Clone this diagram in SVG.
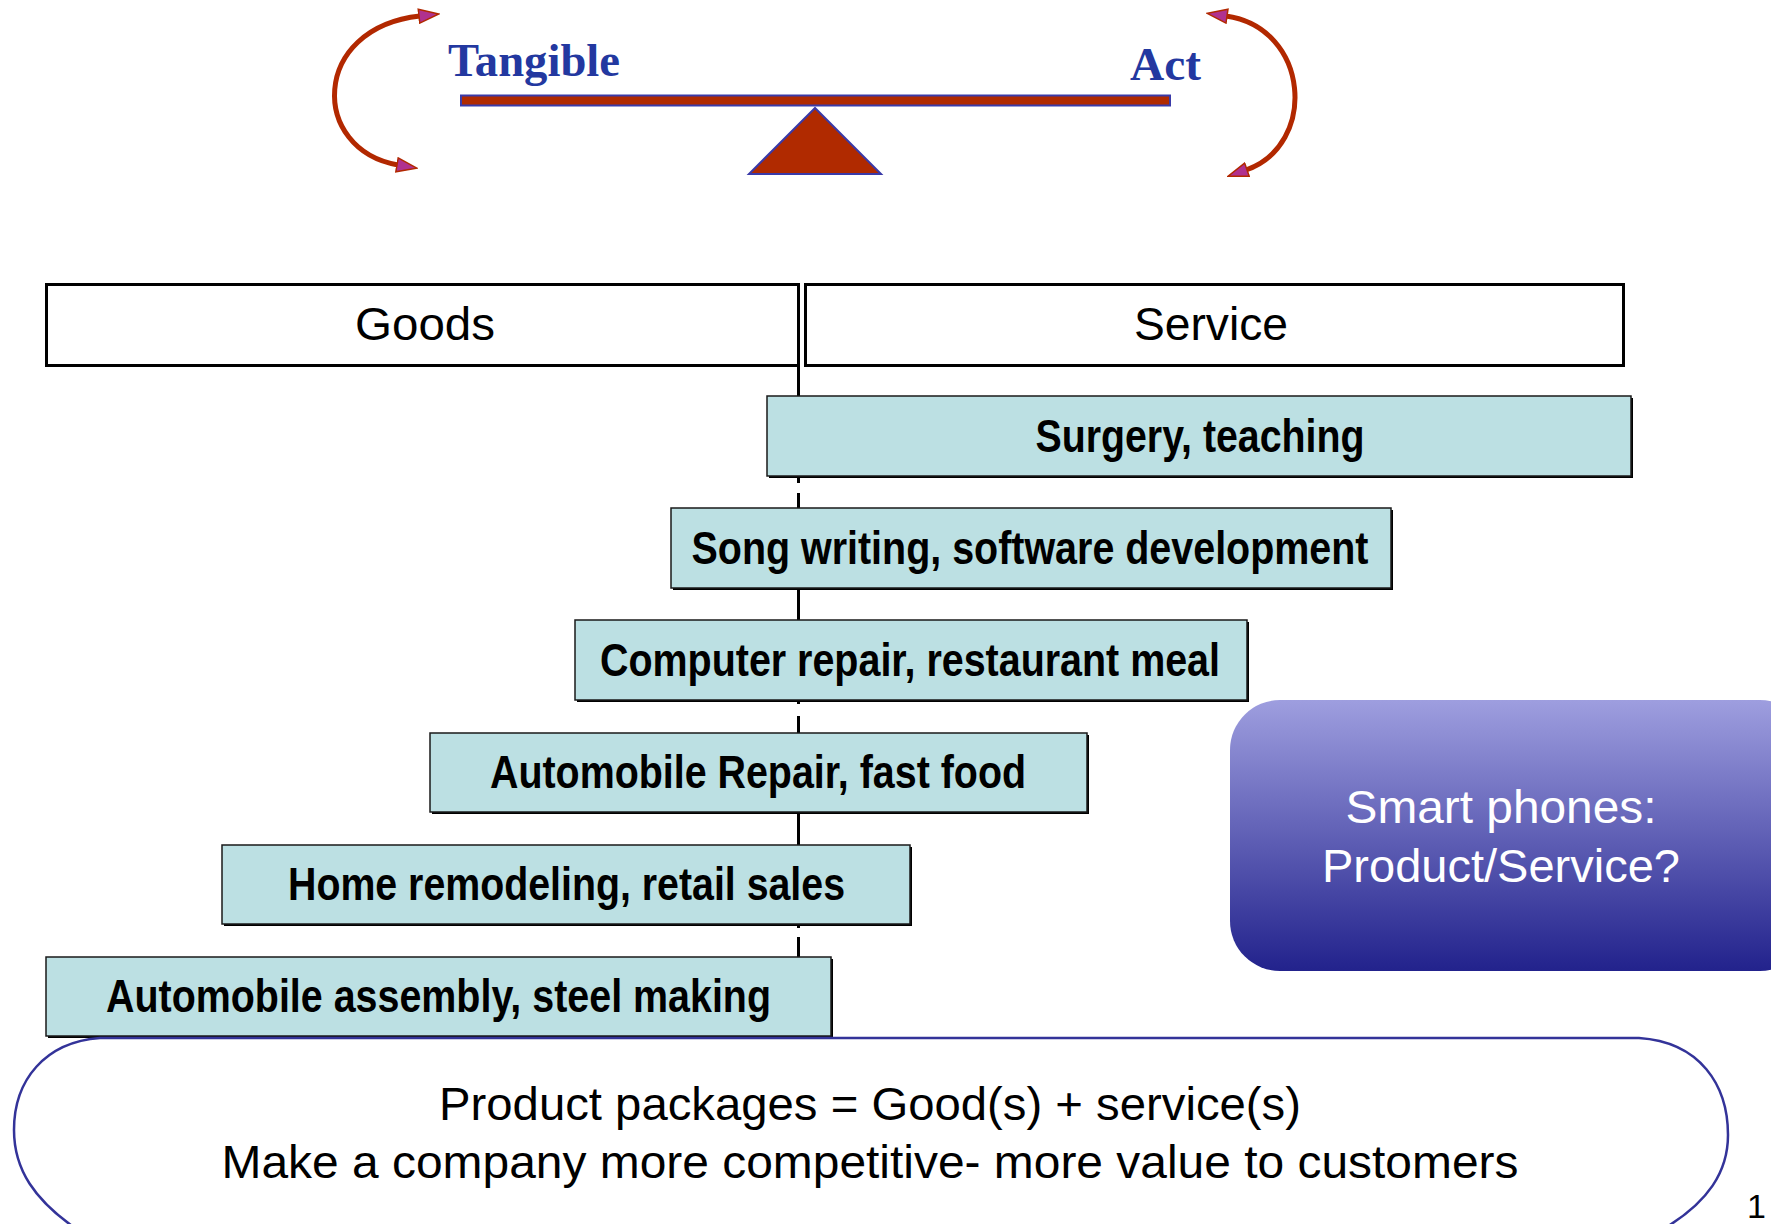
<svg xmlns="http://www.w3.org/2000/svg" width="1771" height="1224" viewBox="0 0 1771 1224">
  <style>
    .narrow { font-family: 'Liberation Sans Narrow', 'Liberation Sans', Arial, sans-serif; }
    .bold { font-weight: bold; }
    .box { fill: #BCE0E3; stroke: #1a1a1a; stroke-width: 1.5; }
    .shadow { fill: #000; }
    .boxtext { font-size: 46px; fill: #000; text-anchor: middle; }
    .hdr { fill: #fff; stroke: #000; stroke-width: 3; }
    .hdrtext { font-size: 46px; fill: #000; text-anchor: middle; }
    .serif { font-family: 'Liberation Serif', 'Times New Roman', serif; font-weight: bold; fill: #2338A0; font-size: 46px; }
    .arc { fill: none; stroke: #B22800; stroke-width: 5; stroke-linecap: round; }
  </style>
  <defs>
    <marker id="ah" markerUnits="userSpaceOnUse" markerWidth="22" markerHeight="16" viewBox="-1 -1 22 16" refX="1" refY="7" orient="auto-start-reverse">
      <path d="M0,0 L20,7 L0,14 z" fill="#B0318F" stroke="#B22800" stroke-width="1.5"/>
    </marker>
    <linearGradient id="purple" x1="0" y1="0" x2="0" y2="1">
      <stop offset="0" stop-color="#9E9EDF"/>
      <stop offset="1" stop-color="#22228C"/>
    </linearGradient>
  </defs>

  <!-- Seesaw -->
  <g id="seesaw">
    <rect x="461" y="95.5" width="709" height="10" fill="#B02A00" stroke="#3A3AA8" stroke-width="2"/>
    <polygon points="815,108 749,174 881,174" fill="#B02A00" stroke="#3A3AA8" stroke-width="2"/>
  </g>
  <g id="label-tangible">
    <text class="serif" x="448" y="76" textLength="172" lengthAdjust="spacingAndGlyphs">Tangible</text>
  </g>
  <g id="label-act">
    <text class="serif" x="1130" y="80" textLength="71" lengthAdjust="spacingAndGlyphs">Act</text>
  </g>

  <!-- Connectors -->
  <g id="connectors">
    <path class="arc" d="M 420,16 C 310,28 310,150 398,165" marker-start="url(#ah)" marker-end="url(#ah)"/>
    <path class="arc" d="M 1226,16 C 1310,28 1318,145 1246,170" marker-start="url(#ah)" marker-end="url(#ah)"/>
    <path d="M798.5 366 V396 M798.5 476 V483 M798.5 493 V508 M798.5 588 V620 M798.5 700 V704 M798.5 716 V733 M798.5 812 V845 M798.5 924 V928 M798.5 937 V957" stroke="#000" stroke-width="3" fill="none"/>
  </g>

  <!-- Header -->
  <g id="goods">
    <rect class="hdr" x="46.5" y="284.5" width="752" height="81"/>
    <text class="narrow hdrtext" x="425" y="340" textLength="140" lengthAdjust="spacingAndGlyphs">Goods</text>
  </g>
  <g id="service">
    <rect class="hdr" x="805.5" y="284.5" width="818" height="81"/>
    <text class="narrow hdrtext" x="1211" y="340" textLength="154" lengthAdjust="spacingAndGlyphs">Service</text>
  </g>

  <!-- Spectrum boxes -->
  <g id="surgery">
    <rect class="shadow" x="769" y="398" width="864" height="80"/>
    <rect class="box" x="767" y="396" width="864" height="80"/>
    <text class="narrow bold boxtext" x="1200" y="452" textLength="329" lengthAdjust="spacingAndGlyphs">Surgery, teaching</text>
  </g>
  <g id="song">
    <rect class="shadow" x="673" y="510" width="720" height="80"/>
    <rect class="box" x="671" y="508" width="720" height="80"/>
    <text class="narrow bold boxtext" x="1030" y="564" textLength="677" lengthAdjust="spacingAndGlyphs">Song writing, software development</text>
  </g>
  <g id="computer">
    <rect class="shadow" x="577" y="622" width="672" height="80"/>
    <rect class="box" x="575" y="620" width="672" height="80"/>
    <text class="narrow bold boxtext" x="910" y="676" textLength="620" lengthAdjust="spacingAndGlyphs">Computer repair, restaurant meal</text>
  </g>
  <g id="autorepair">
    <rect class="shadow" x="432" y="735" width="657" height="79"/>
    <rect class="box" x="430" y="733" width="657" height="79"/>
    <text class="narrow bold boxtext" x="758" y="788" textLength="536" lengthAdjust="spacingAndGlyphs">Automobile Repair, fast food</text>
  </g>
  <g id="home">
    <rect class="shadow" x="224" y="847" width="688" height="79"/>
    <rect class="box" x="222" y="845" width="688" height="79"/>
    <text class="narrow bold boxtext" x="566.5" y="900" textLength="557" lengthAdjust="spacingAndGlyphs">Home remodeling, retail sales</text>
  </g>
  <g id="assembly">
    <rect class="shadow" x="48" y="959" width="785" height="79"/>
    <rect class="box" x="46" y="957" width="785" height="79"/>
    <text class="narrow bold boxtext" x="438.5" y="1012" textLength="665" lengthAdjust="spacingAndGlyphs">Automobile assembly, steel making</text>
  </g>

  <!-- Smart phones -->
  <g id="smartphones">
    <rect x="1230" y="700" width="580" height="271" rx="50" ry="50" fill="url(#purple)"/>
    <text x="1501" y="823" font-family="'Liberation Sans', Arial, sans-serif" font-size="47" fill="#fff" text-anchor="middle" textLength="311" lengthAdjust="spacingAndGlyphs">Smart phones:</text>
    <text x="1501" y="882" font-family="'Liberation Sans', Arial, sans-serif" font-size="47" fill="#fff" text-anchor="middle" textLength="358" lengthAdjust="spacingAndGlyphs">Product/Service?</text>
  </g>

  <!-- Bottom package -->
  <g id="packages">
    <path d="M 100,1038 H 1639 C 1700,1042 1728,1085 1728,1135 C 1728,1172 1708,1202 1665,1228 L 1665,1270 L 75,1270 L 75,1228 C 35,1200 14,1170 14,1130 C 14,1080 45,1042 100,1038 Z" fill="none" stroke="#333399" stroke-width="2.5"/>
    <text class="narrow" x="870" y="1120" font-size="47" text-anchor="middle" textLength="862" lengthAdjust="spacingAndGlyphs">Product packages = Good(s) + service(s)</text>
    <text class="narrow" x="870" y="1178" font-size="47" text-anchor="middle" textLength="1297" lengthAdjust="spacingAndGlyphs">Make a company more competitive- more value to customers</text>
  </g>

  <g id="pagenum">
    <text x="1747" y="1218" font-family="'Liberation Sans', Arial, sans-serif" font-size="34" fill="#000">1</text>
  </g>
</svg>
